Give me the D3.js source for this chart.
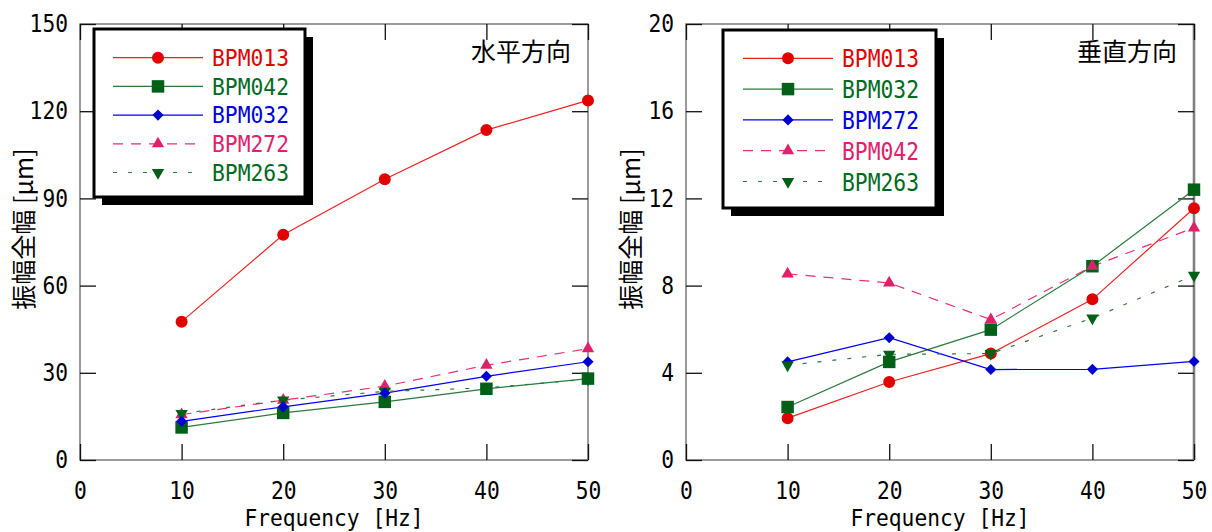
<!DOCTYPE html>
<html>
<head>
<meta charset="utf-8">
<script src="https://cdn.jsdelivr.net/npm/d3@7"></script>
<style>
  body { margin: 0; background: #fff; }
  svg { display: block; }
</style>
</head>
<body>
<svg id="chart" width="1212" height="532"></svg>
<script>
// data
var freqs = [10, 20, 30, 40, 50];
var xTicks = [0, 10, 20, 30, 40, 50];
var hTicks = [0, 30, 60, 90, 120, 150];
var vTicks = [0, 4, 8, 12, 16, 20];

// 水平方向
var hNames = ["BPM013", "BPM042", "BPM032", "BPM272", "BPM263"];
var hBPM013 = [47.6, 77.5, 96.6, 113.5, 123.7];
var hBPM042 = [11.2, 16.2, 20.0, 24.5, 28.0];
var hBPM032 = [13.3, 18.3, 23.0, 28.8, 33.8];
var hBPM272 = [15.6, 20.6, 25.4, 32.6, 38.3];
var hBPM263 = [16.0, 20.6, 23.6, 24.8, 27.8];

// 垂直方向
var vNames = ["BPM013", "BPM032", "BPM272", "BPM042", "BPM263"];
var vBPM013 = [1.92, 3.58, 4.88, 7.37, 11.55];
var vBPM032 = [2.43, 4.5, 5.98, 8.89, 12.4];
var vBPM272 = [4.5, 5.61, 4.15, 4.16, 4.52];
var vBPM042 = [8.54, 8.12, 6.44, 8.89, 10.65];
var vBPM263 = [4.35, 4.85, 4.88, 6.51, 8.47];

// style per legend slot
var slots = [
  {text: "#e00000", line: "#f02020", mark: "#e00000", dash: null,   sym: "circle"},
  {text: "#006a22", line: "#2b7a3b", mark: "#006018", dash: null,   sym: "square"},
  {text: "#0000e0", line: "#0000f0", mark: "#0000d0", dash: null,   sym: "diamond"},
  {text: "#e0206a", line: "#e8306e", mark: "#e0206a", dash: "10,8", sym: "up"},
  {text: "#006a22", line: "#2b7a3b", mark: "#006018", dash: "4,11", sym: "down"}
];

var monoFont = "'DejaVu Sans Mono', monospace";
var cjkFont = "'Noto Sans CJK JP', sans-serif";
var cell = 12.8;

var svg = d3.select("#chart");

function symPath(kind) {
  if (kind == "circle") return d3.symbol().type(d3.symbolCircle).size(113)();
  if (kind == "square") return d3.symbol().type(d3.symbolSquare).size(156)();
  if (kind == "diamond") return d3.symbol().type(d3.symbolSquare).size(62)();
  return d3.symbol().type(d3.symbolTriangle).size(66)();
}
function symRot(kind) {
  if (kind == "diamond") return 45;
  if (kind == "down") return 180;
  return 0;
}

function squeeze(sel) {
  sel.attr("textLength", function() { return this.textContent.length * cell; })
     .attr("lengthAdjust", "spacingAndGlyphs");
}

function drawPanel(p) {
  var x = d3.scaleLinear().domain([0, 50]).range([p.x0, p.x1]);
  var y = d3.scaleLinear().domain([0, p.ymax]).range([460, 24]);
  var g = svg.append("g");

  // frame
  g.append("rect")
    .attr("x", p.x0).attr("y", 24)
    .attr("width", p.x1 - p.x0).attr("height", 436)
    .attr("fill", "none").attr("stroke", "#666").attr("stroke-width", 1.3);
  if (p.thickRight) {
    g.append("line")
      .attr("x1", p.x1).attr("x2", p.x1).attr("y1", 24).attr("y2", 460)
      .attr("stroke", "#808080").attr("stroke-width", 2.6);
  }

  // axes, ticks point inward
  var ax = [
    g.append("g").attr("transform", "translate(0,460)")
      .call(d3.axisBottom(x).tickValues(xTicks).tickSizeInner(-16).tickSizeOuter(0).tickPadding(22)),
    g.append("g").attr("transform", "translate(0,24)")
      .call(d3.axisTop(x).tickValues(xTicks).tickSizeInner(-16).tickSizeOuter(0).tickFormat("")),
    g.append("g").attr("transform", "translate(" + p.x0 + ",0)")
      .call(d3.axisLeft(y).tickValues(p.yTicks).tickSizeInner(-16).tickSizeOuter(0).tickPadding(12)),
    g.append("g").attr("transform", "translate(" + p.x1 + ",0)")
      .call(d3.axisRight(y).tickValues(p.yTicks).tickSizeInner(-16).tickSizeOuter(0).tickFormat(""))
  ];
  ax.forEach(function(a) {
    a.select(".domain").remove();
    a.selectAll(".tick line").attr("stroke", "#111").attr("stroke-width", 1.3);
    a.selectAll("text")
      .attr("font-family", monoFont).attr("font-size", 24).attr("fill", "#000")
      .call(squeeze);
  });

  // series
  p.names.forEach(function(name, i) {
    var s = slots[i];
    var pts = freqs.map(function(f, j) { return [x(f), y(p.values[i][j])]; });
    g.append("path")
      .attr("d", d3.line()(pts))
      .attr("fill", "none")
      .attr("stroke", s.line)
      .attr("stroke-width", 1.2)
      .attr("stroke-dasharray", s.dash);
  });
  p.order.forEach(function(i) {
    var s = slots[i];
    g.selectAll(null)
      .data(freqs)
      .enter().append("path")
        .attr("d", symPath(s.sym))
        .attr("fill", s.mark)
        .attr("transform", function(f, j) {
          return "translate(" + x(f) + "," + y(p.values[i][j]) + ") rotate(" + symRot(s.sym) + ")";
        });
  });

  // title
  g.append("text")
    .attr("x", p.x1 - 17).attr("y", 61)
    .attr("text-anchor", "end")
    .attr("font-family", cjkFont).attr("font-size", 25)
    .text(p.title);

  // axis titles
  g.append("text")
    .attr("x", (p.x0 + p.x1) / 2).attr("y", 526)
    .attr("text-anchor", "middle")
    .attr("font-family", monoFont).attr("font-size", 23)
    .text("Frequency [Hz]")
    .call(squeeze);
  g.append("text")
    .attr("transform", "translate(" + p.ylabX + ",229) rotate(-90)")
    .attr("text-anchor", "middle")
    .attr("dominant-baseline", "central")
    .attr("font-family", cjkFont).attr("font-size", 25)
    .text("振幅全幅 [μm]");

  // legend
  var L = p.legend;
  var lg = g.append("g");
  lg.append("rect")
    .attr("x", L.x + 8).attr("y", L.y + 8).attr("width", L.w).attr("height", L.h)
    .attr("fill", "#000");
  lg.append("rect")
    .attr("x", L.x).attr("y", L.y).attr("width", L.w).attr("height", L.h)
    .attr("fill", "#fff").attr("stroke", "#000").attr("stroke-width", 3);
  var rows = lg.selectAll(".row")
    .data(p.names)
    .enter().append("g")
      .attr("class", "row")
      .attr("transform", function(d, i) { return "translate(0," + (L.row0 + i * L.step) + ")"; });
  rows.append("line")
    .attr("x1", L.lx0).attr("x2", L.lx1)
    .attr("stroke", function(d, i) { return slots[i].line; })
    .attr("stroke-width", 1.2)
    .attr("stroke-dasharray", function(d, i) { return slots[i].dash; });
  rows.append("path")
    .attr("d", function(d, i) { return symPath(slots[i].sym); })
    .attr("fill", function(d, i) { return slots[i].mark; })
    .attr("transform", function(d, i) {
      return "translate(" + (L.lx0 + L.lx1) / 2 + ",0) rotate(" + symRot(slots[i].sym) + ")";
    });
  rows.append("text")
    .attr("x", L.tx)
    .attr("y", L.fs * 0.36)
    .attr("font-family", monoFont).attr("font-size", L.fs)
    .attr("fill", function(d, i) { return slots[i].text; })
    .text(function(d) { return d; })
    .attr("textLength", 77)
    .attr("lengthAdjust", "spacingAndGlyphs");
}

drawPanel({
  x0: 80, x1: 588, ymax: 150, yTicks: hTicks,
  names: hNames, values: [hBPM013, hBPM042, hBPM032, hBPM272, hBPM263],
  order: [0, 3, 4, 1, 2],
  title: "水平方向", ylabX: 22,
  legend: {x: 94, y: 29, w: 211, h: 168, row0: 57.7, step: 28.7, lx0: 113, lx1: 203, tx: 212, fs: 23}
});

drawPanel({
  x0: 686, x1: 1194, ymax: 20, yTicks: vTicks, thickRight: true,
  names: vNames, values: [vBPM013, vBPM032, vBPM272, vBPM042, vBPM263],
  order: [0, 1, 2, 4, 3],
  title: "垂直方向", ylabX: 629,
  legend: {x: 723, y: 30, w: 213, h: 178, row0: 58.3, step: 30.8, lx0: 743, lx1: 833, tx: 842, fs: 25}
});
</script>
</body>
</html>
